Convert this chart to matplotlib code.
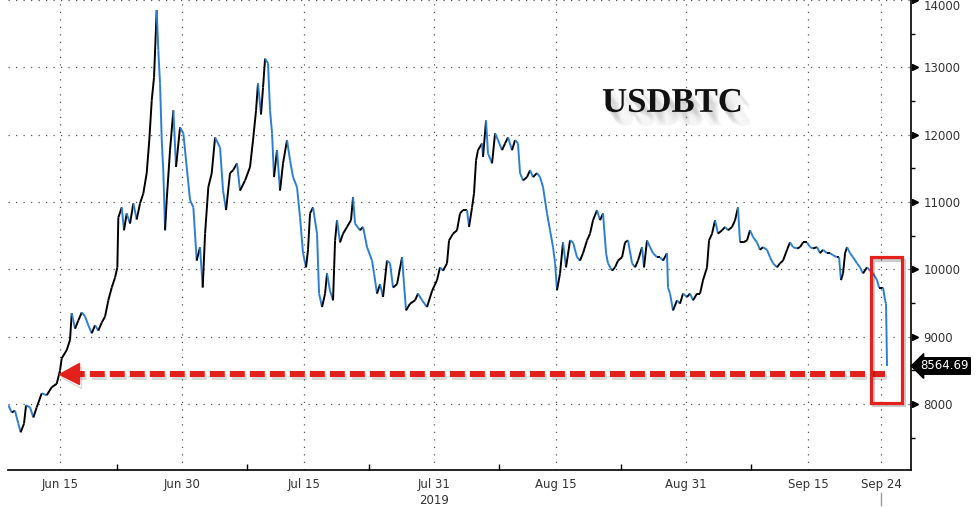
import numpy as np
import matplotlib
matplotlib.use("Agg")
import matplotlib.pyplot as plt
import matplotlib.dates as mdates
import matplotlib.patheffects as pe
from matplotlib.collections import LineCollection
from matplotlib.patches import Rectangle

# time axis: days since 1 Jun 2019
t_days = [7.64, 8.06, 8.46, 8.87, 9.16, 9.57, 9.82, 10.31, 10.72, 11.13,
          11.75, 12.36, 12.98, 13.59, 14.0, 14.21, 14.82, 15.23, 15.44, 15.85,
          16.25, 16.67, 17.08, 17.48, 17.90, 18.31, 18.71, 19.13, 19.54, 19.94,
          20.36, 20.77, 21.05, 21.17, 21.59, 21.87, 22.20, 22.61, 23.02, 23.43,
          23.84, 24.25, 24.66, 24.98, 25.28, 25.56, 25.89, 26.09, 26.30, 26.51,
          26.71, 26.92, 27.12, 27.53, 27.94, 28.27, 28.76, 29.17, 29.58, 29.99,
          30.40, 30.81, 31.22, 31.55, 31.84, 32.24, 32.66, 33.07, 33.68, 34.05,
          34.42, 34.91, 35.28, 35.77, 36.14, 36.76, 37.37, 37.74, 38.11, 38.35,
          38.72, 38.97, 39.22, 39.58, 39.83, 40.08, 40.32, 40.69, 41.06, 41.43,
          41.92, 42.29, 42.66, 43.15, 43.52, 43.89, 44.26, 44.50, 44.75, 45.12,
          45.61, 45.86, 46.23, 46.60, 46.84, 47.21, 47.58, 47.83, 48.07, 48.44,
          48.81, 49.30, 49.79, 50.04, 50.29, 50.90, 51.27, 51.76, 52.38, 52.62,
          52.99, 53.36, 53.73, 54.22, 54.59, 54.96, 55.45, 56.07, 56.31, 56.56,
          57.05, 57.67, 58.03, 58.53, 59.14, 59.76, 60.37, 60.74, 61.11, 61.60,
          61.85, 62.34, 62.83, 63.20, 63.57, 64.06, 64.31, 64.68, 64.92, 65.17,
          65.41, 65.91, 66.03, 66.40, 66.64, 67.14, 67.51, 67.87, 68.37, 68.74,
          69.10, 69.60, 69.97, 70.33, 70.58, 70.95, 71.44, 71.81, 72.18, 72.67,
          73.04, 73.41, 73.90, 74.27, 74.64, 74.89, 75.13, 75.50, 75.87, 76.24,
          76.73, 77.10, 77.59, 77.96, 78.33, 78.82, 79.19, 79.56, 80.05, 80.42,
          80.79, 81.16, 81.40, 81.90, 82.27, 82.63, 83.13, 83.50, 83.86, 84.36,
          84.73, 85.09, 85.59, 85.83, 86.20, 86.57, 86.94, 87.43, 87.80, 88.17,
          88.66, 88.78, 89.03, 89.40, 89.89, 90.26, 90.63, 91.12, 91.49, 91.86,
          92.35, 92.72, 93.09, 93.58, 93.83, 94.20, 94.57, 94.93, 95.43, 95.80,
          96.16, 96.66, 97.03, 97.39, 97.64, 98.01, 98.50, 98.87, 99.24, 99.73,
          100.10, 100.47, 100.96, 101.33, 101.70, 102.19, 102.56, 102.93, 103.42, 103.79,
          104.16, 104.65, 105.02, 105.39, 105.88, 106.25, 106.62, 107.11, 107.48, 107.85,
          108.34, 108.71, 109.08, 109.57, 109.82, 110.06, 110.31, 110.56, 110.80, 111.17,
          111.54, 112.03, 112.40, 112.77, 113.26, 113.63, 114.00, 114.49, 114.74, 115.23,
          115.48, 115.60, 115.72]

usdbtc = [7980, 7875, 7900, 7710, 7580, 7710, 7980, 7950, 7800, 7950,
          8160, 8130, 8250, 8300, 8500, 8680, 8800, 8950, 9350, 9120,
          9240, 9360, 9300, 9170, 9050, 9170, 9090, 9210, 9300, 9540,
          9730, 9880, 10030, 10770, 10920, 10580, 10830, 10680, 10980, 10740,
          10980, 11130, 11430, 11920, 12510, 12850, 13850, 13250, 12760, 11920,
          11430, 10580, 11030, 11770, 12360, 11520, 12110, 12020, 11520, 11030,
          10920, 10130, 10330, 9730, 10530, 11220, 11430, 11960, 11810, 11170,
          10880, 11430, 11470, 11575, 11170, 11320, 11520, 11920, 12360, 12760,
          12300, 12700, 13130, 13060, 12360, 12020, 11370, 11770, 11170, 11575,
          11920, 11620, 11370, 11220, 10770, 10240, 10030, 10290, 10830, 10920,
          10530, 9640, 9440, 9640, 9940, 9680, 9540, 10430, 10730, 10400,
          10530, 10630, 10730, 11070, 10680, 10580, 10630, 10330, 10130, 9940,
          9640, 9780, 9590, 10130, 10090, 9730, 9780, 10180, 9780, 9390,
          9490, 9540, 9640, 9540, 9440, 9680, 9840, 10030, 9980, 10090,
          10430, 10530, 10580, 10830, 10880, 10880, 10630, 10920, 11130, 11620,
          11770, 11870, 11670, 12210, 11720, 11575, 12020, 11920, 11770, 11870,
          11960, 11770, 11920, 11870, 11430, 11320, 11370, 11470, 11370, 11430,
          11370, 11220, 10830, 10580, 10330, 10090, 9690, 9940, 10400, 10030,
          10430, 10400, 10180, 10130, 10240, 10430, 10530, 10730, 10880, 10730,
          10830, 10240, 10090, 9980, 10030, 10130, 10180, 10400, 10430, 10090,
          10030, 10130, 10330, 10030, 10430, 10330, 10240, 10180, 10180, 10130,
          10240, 9730, 9640, 9390, 9540, 9490, 9640, 9590, 9640, 9540,
          9640, 9640, 9840, 10030, 10430, 10530, 10730, 10530, 10580, 10630,
          10580, 10630, 10730, 10920, 10400, 10400, 10430, 10580, 10480, 10400,
          10290, 10330, 10290, 10180, 10090, 10030, 10090, 10130, 10290, 10400,
          10330, 10310, 10330, 10400, 10400, 10330, 10310, 10330, 10240, 10290,
          10240, 10240, 10210, 10180, 10180, 9840, 9940, 10240, 10330, 10240,
          10180, 10090, 10030, 9940, 10030, 9980, 9940, 9840, 9730, 9730,
          9540, 9490, 8564.69]

tick_dates = ["2019-06-15", "2019-06-30", "2019-07-15", "2019-07-31",
              "2019-08-15", "2019-08-31", "2019-09-15", "2019-09-24"]
tick_labels = ["Jun 15", "Jun 30", "Jul 15", "Jul 31",
               "Aug 15", "Aug 31", "Sep 15", "Sep 24"]
minor_dates = ["2019-06-22", "2019-07-08", "2019-07-23", "2019-08-08",
               "2019-08-23", "2019-09-08"]
y_major = [8000, 9000, 10000, 11000, 12000, 13000, 14000]
y_minor = [7500, 8500, 9500, 10500, 11500, 12500, 13500]

last_price = usdbtc[-1]
support_level = 8450      # red dashed arrow level
box_low, box_high = 8020, 10180

RED = "#e3201b"
BLUE = "#2a7fd5"
TXT = "#333333"

base = mdates.date2num(np.datetime64("2019-06-01"))
x = base + np.array(t_days)
y = np.array(usdbtc)

fig = plt.figure(figsize=(9.76, 5.07), dpi=100)
ax = fig.add_axes([8 / 976, 1 - 470 / 507, 903 / 976, 470 / 507])

# price line: rising pieces black, falling pieces blue (candle look)
pts = np.column_stack([x, y]).reshape(-1, 1, 2)
segs = np.concatenate([pts[:-1], pts[1:]], axis=1)
cols = [BLUE if d < 0 else "black" for d in np.diff(y)]
ax.add_collection(LineCollection(segs, colors=cols, linewidths=1.4, zorder=3))

ax.set_xlim(base + 7.6, base + 118.67)
ax.set_ylim(7020, 14000)

# axes styling
for s in ["left", "top"]:
    ax.spines[s].set_visible(False)
ax.spines["bottom"].set_linewidth(1.2)
ax.spines["right"].set_linewidth(1.2)

ax.set_xticks(mdates.datestr2num(tick_dates))
ax.set_xticklabels(tick_labels, fontsize=8.5, color=TXT)
ax.set_xticks(mdates.datestr2num(minor_dates), minor=True)
ax.tick_params(axis="x", which="major", length=0, pad=6)
ax.tick_params(axis="x", which="minor", direction="in", length=4, width=1, color="black")

ax.yaxis.tick_right()
ax.set_yticks(y_major)
ax.set_yticklabels([str(v) for v in y_major], fontsize=8.5, color=TXT)
ax.set_yticks(y_minor, minor=True)
ax.tick_params(axis="y", which="major", length=0, pad=9)
ax.tick_params(axis="y", which="minor", direction="out", length=3, width=1, color="black")
# top label sits on the figure edge in the original: nudge it just inside
ax.get_yticklabels()[-1].set_va("top")

# triangle markers for the major y ticks
ax.plot([1.004] * len(y_major), y_major, ls="none", marker=">", ms=5, color="black",
        transform=ax.get_yaxis_transform(), clip_on=False)

ax.grid(True, which="major", color="#555555", linestyle=(0, (1, 5)), linewidth=0.9)

ax.text(mdates.datestr2num("2019-07-31"), -0.05, "2019", transform=ax.get_xaxis_transform(),
        ha="center", va="top", fontsize=8.5, color=TXT)
sep24 = mdates.datestr2num("2019-09-24")
ax.plot([sep24, sep24], [-0.049, -0.075], color="#999999", lw=1,
        transform=ax.get_xaxis_transform(), clip_on=False)

# last price tag
ax.annotate(f"{last_price:.2f}", xy=(1.0, last_price), xycoords=ax.get_yaxis_transform(),
            xytext=(1.01, last_price), textcoords=ax.get_yaxis_transform(),
            ha="left", va="center", fontsize=8.5, color="white",
            bbox=dict(boxstyle="larrow,pad=0.15", fc="black", ec="black"))

# red dashed arrow back to June level
shadow = [pe.SimpleLineShadow(offset=(1.5, -2.5), alpha=0.15), pe.Normal()]
ax.plot([x[-1] - 0.2, base + 16.0], [support_level, support_level], color=RED, lw=4.3,
        dashes=(2.5, 0.85), solid_capstyle="butt", dash_capstyle="butt",
        path_effects=shadow, zorder=5)
ax.plot([base + 15.1], [support_level], marker="<", ms=15, color=RED, mec=RED,
        zorder=5, path_effects=shadow)

# red box around the final drop
rect = Rectangle((base + 113.7, box_low), 3.9, box_high - box_low, fill=False,
                 ec=RED, lw=2.3, zorder=5,
                 path_effects=[pe.SimpleLineShadow(offset=(1.5, -2), alpha=0.2), pe.Normal()])
ax.add_patch(rect)

# title with soft shadow
title_fx = [pe.SimplePatchShadow(offset=(o, -1.4 * o), shadow_rgbFace="#777777", alpha=0.07)
            for o in (1, 2, 3, 4, 5, 6, 7)] + [pe.Normal()]
ax.text(0.736, 0.762, "USDBTC", transform=ax.transAxes, ha="center", va="baseline",
        fontsize=25, fontweight="bold", family="Liberation Serif", color="#111111",
        path_effects=title_fx, zorder=6)

fig.savefig("out.png", dpi=100)
